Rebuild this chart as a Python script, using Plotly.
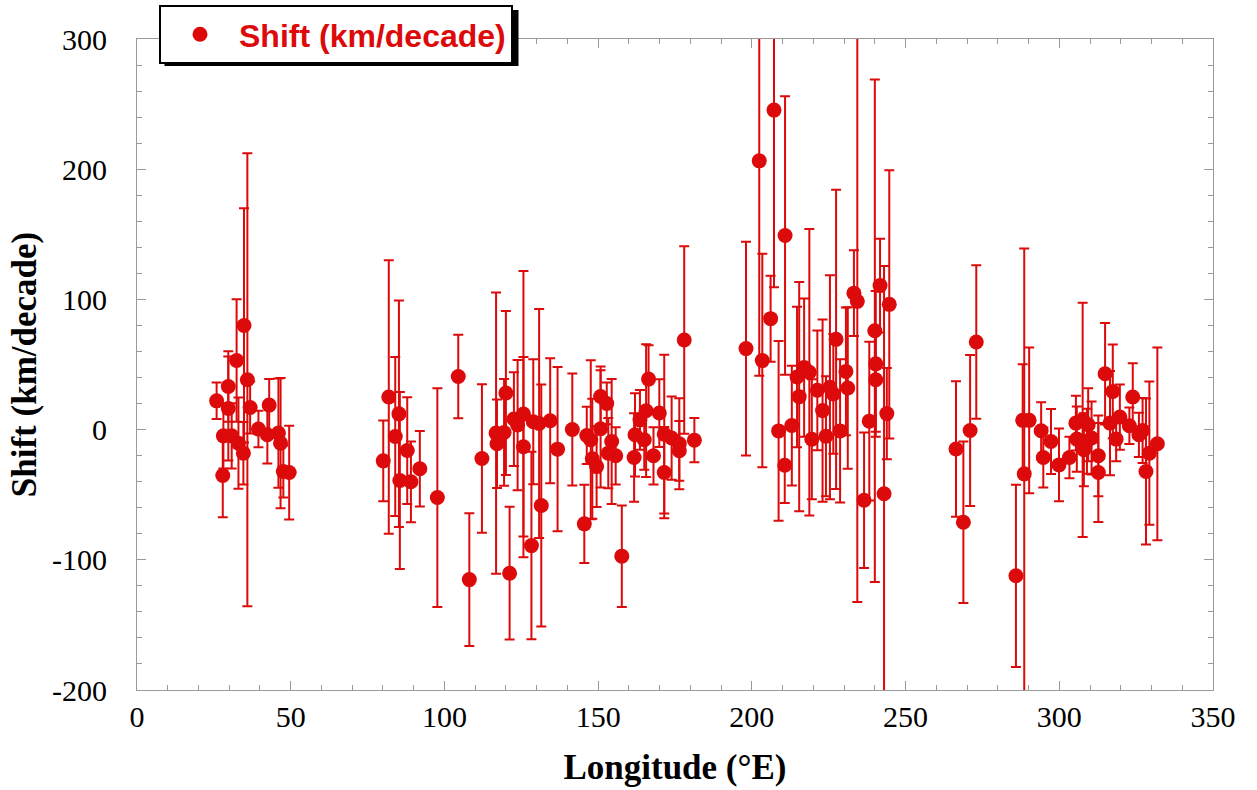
import plotly.graph_objects as go

# ---- data ----
longitude = [
    25.9, 27.9, 28.1, 29.7, 29.7, 30.8, 32.4, 33.0, 34.8, 35.9, 36.8, 34.6, 39.5, 43.0, 42.4, 46.0, 46.7, 47.6, 49.5,
    80.1, 81.9, 85.2, 84.0, 85.5, 87.9, 89.1, 92.0, 97.7, 104.5, 108.1, 112.2, 116.8, 117.1, 119.4, 120.0, 121.2,
    122.6, 123.8, 125.7, 125.7, 128.3, 128.9, 130.8, 131.5, 134.4, 136.8, 141.6, 145.5, 146.3, 147.6, 148.1, 149.5,
    150.8, 150.8, 152.8, 154.4, 155.7, 153.3, 157.7, 161.7, 162.0, 163.6, 165.6, 166.4, 165.0, 168.0, 169.9, 171.5,
    171.5, 173.9, 176.4, 176.4, 178.0, 181.3,
    198.1, 202.4, 203.4, 207.2, 206.1, 210.8, 208.7, 210.7, 213.0, 214.7, 215.4, 217.0, 218.7, 219.5, 221.3, 223.0,
    224.1, 225.4, 226.5, 227.4, 228.7, 230.6, 231.2, 233.2, 234.3, 236.5, 238.2, 240.0, 240.3, 241.7, 240.3, 243.0,
    244.7, 243.9,
    266.4, 268.8, 271.0, 273.0, 285.9, 288.1, 288.6, 290.2,
    294.1, 294.8, 297.3, 299.9, 303.3, 305.4, 305.7, 307.6, 308.0, 309.4, 310.5, 312.7, 312.7, 314.9, 316.5, 317.4,
    318.5, 319.7, 322.8, 323.9, 325.9, 327.1, 328.2, 329.3, 331.9, 309.0,
]
shift = [
    22.1, -35.3, -4.8, 33.1, 16.2, -4.8, 53.1, -10.4, 80.0, 38.3, 17.0, -18.1, 0.4, 18.8, -4.0, -2.7, -10.4, -32.2, -33.0,
    -24.0, 25.0, 12.1, -5.3, -39.1, -16.1, -40.1, -30.1, -52.2, 40.8, -115.2, -22.2, -2.7, -10.9, -2.2, 28.1, -110.3,
    8.1, 3.5, 11.9, -13.2, -89.1, 6.0, 4.7, -58.3, 6.8, -15.0, 0.1, -72.4, -4.5, -7.8, -22.4, -28.4,
    25.4, 0.6, 20.1, -9.1, -20.1, -18.1, -97.2, -21.4, -4.0, 7.5, 14.5, 38.8, -7.8, -20.1, 12.7, -3.5,
    -33.0, -6.5, -10.9, -16.3, 68.8, -8.1,
    62.2, 206.4, 53.0, 245.4, 85.2, 149.1, -1.0, -27.4, 3.1, 40.4, 25.3, 47.6, 44.1, -7.4, 30.2, 14.6,
    -5.1, 32.5, 27.4, 69.3, -1.0, 44.7, 32.0, 104.8, 98.5, -54.3, 6.5, 75.9, 50.5, 110.6, 38.3, -49.3,
    96.2, 12.3,
    -14.9, -71.2, -0.7, 67.3, -112.3, 7.1, -34.0, 7.1,
    -0.9, -21.4, -9.1, -27.1, -21.4, 5.0, -7.3, 7.5, -15.5, 3.7, -6.5, -20.1, -33.0, 42.9, 5.0, 29.3,
    -7.3, 9.6, 2.9, 25.0, -4.0, -0.7, -32.2, -18.1, -10.9, -9.0,
]
error = [
    14, 32, 25, 27, 40, 25, 47, 35, 90, 174, 20, 24, 14, 20, 22, 42, 50, 20, 36,
    31, 105, 87, 61, 68, 41, 31, 29, 84, 32, 51, 57, 108, 34, 41, 63, 51,
    36, 50, 110, 69, 72, 48, 88, 93, 48, 63, 43, 30, 22, 61, 46, 31,
    23, 45, 16, 48, 22, 27, 39, 34, 32, 23, 51, 26, 23, 22, 26, 61,
    35, 32, 35, 23, 72, 17,
    82, 165, 82, 136, 33, 107, 69, 29, 46, 54, 88, 53, 110, 46, 46, 70,
    46, 86, 46, 115, 55, 49, 62, 33, 231, 52, 61, 193, 56, 36, 40, 175,
    103, 35,
    52, 62, 58, 59, 70, 43, 173, 56,
    22, 23, 25, 28, 16, 21, 25, 90, 28, 28, 28, 31, 38, 39, 40, 36,
    17, 25, 14, 26, 17, 25, 56, 55, 74, 25,
]

x_ticks = [0, 50, 100, 150, 200, 250, 300, 350]
y_ticks = [-200, -100, 0, 100, 200, 300]

RED = "#dc0a0a"
GREY = "#9a9a9a"
SERIF = "Liberation Serif, Times New Roman, serif"

fig = go.Figure()
fig.add_trace(go.Scatter(
    x=longitude, y=shift, mode="markers", name="Shift (km/decade)",
    marker=dict(color=RED, size=15, line=dict(width=0)),
    error_y=dict(type="data", array=error, visible=True, color=RED, thickness=2, width=5),
))

W, H = 1257, 790
ML, MR, MT, MB = 137, 44, 39, 100
PW, PH = W - ML - MR, H - MT - MB


def px_x(px):
    return (px - ML) / PW


def px_y(py):
    return (H - MB - py) / PH


axis_common = dict(
    showline=True, linecolor=GREY, linewidth=1, mirror="allticks",
    ticks="inside", ticklen=9, tickcolor=GREY, tickwidth=1,
    showgrid=False, zeroline=False, automargin=False,
    tickfont=dict(family=SERIF, size=30, color="black"),
)

fig.update_xaxes(
    range=[0, 350], tickvals=x_ticks, ticktext=[str(v) for v in x_ticks],
    minor=dict(dtick=10, ticks="inside", ticklen=5, tickcolor=GREY, showgrid=False),
    ticklabelstandoff=0,
    title=dict(text="Longitude (°E)", standoff=22,
               font=dict(family=SERIF, size=35, color="black", weight="bold")),
    **axis_common,
)
fig.update_yaxes(
    range=[-200, 300], tickvals=y_ticks, ticktext=[str(v) for v in y_ticks],
    minor=dict(dtick=20, ticks="inside", ticklen=5, tickcolor=GREY, showgrid=False),
    ticklabelstandoff=23,
    title=dict(text="Shift (km/decade)", standoff=4,
               font=dict(family=SERIF, size=35, color="black", weight="bold")),
    **axis_common,
)

# legend shadow (black offset box behind the legend)
fig.add_shape(type="rect", xref="paper", yref="paper",
              x0=px_x(164.5), x1=px_x(518.5), y0=px_y(66), y1=px_y(10),
              fillcolor="black", line=dict(width=0), layer="above")

fig.update_layout(
    width=W, height=H,
    margin=dict(l=ML, r=MR, t=MT, b=MB, autoexpand=False),
    paper_bgcolor="white", plot_bgcolor="white",
    showlegend=True,
    legend=dict(
        x=px_x(159), y=px_y(5), xanchor="left", yanchor="top",
        bgcolor="white", bordercolor="black", borderwidth=2,
        itemwidth=68,
        font=dict(family="Liberation Sans, Arial, sans-serif", size=32, color=RED, weight="bold"),
    ),
)

fig.write_html("out.html", config={"displayModeBar": False},
               post_script="document.body.style.margin='0px';")
